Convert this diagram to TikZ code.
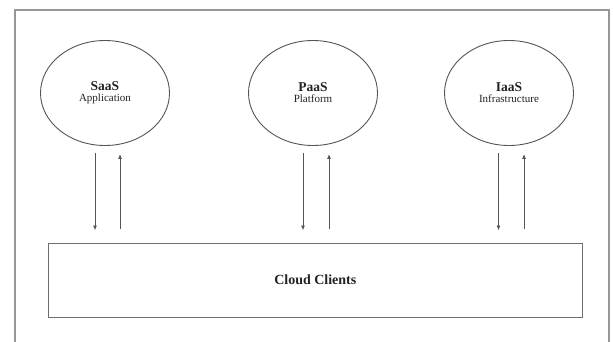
\documentclass[tikz,border=0pt]{standalone}
\usepackage{fontspec}
\setmainfont{Liberation Serif}
\usetikzlibrary{shapes.geometric,arrows.meta,calc}
\definecolor{framegray}{RGB}{150,150,150}
\definecolor{linegray}{RGB}{85,85,85}
\definecolor{txt}{RGB}{35,35,35}
\tikzset{
  svc/.style={ellipse,draw=linegray,line width=0.9pt,minimum width=129pt,minimum height=105pt,inner sep=0pt,align=center,text=txt},
  clientbox/.style={rectangle,draw=linegray!85,line width=1pt,minimum width=534pt,minimum height=74pt,inner sep=0pt,text=txt},
  arr/.style={draw=linegray,line width=0.9pt,-{Latex[length=5pt,width=4pt]}},
  ttl/.style={font=\fontsize{13.5}{15}\selectfont\bfseries},
  sub/.style={font=\fontsize{11}{15}\selectfont}
}
\begin{document}
\begin{tikzpicture}[x=1pt,y=1pt]
\useasboundingbox (0,0) rectangle (613,341);
\fill[white] (0,0) rectangle (613,341);
\draw[framegray,line width=1.5pt] (15,-5) -- (15,331) -- (609,331) -- (609,-5);
\node[svc] (saas) at (105,248) {{\fontsize{13.5}{15}\selectfont\bfseries SaaS}\\[-1pt]{\fontsize{11}{13}\selectfont Application}};
\node[svc] (paas) at (313,248) {{\fontsize{13.5}{15}\selectfont\bfseries PaaS}\\[-1pt]{\fontsize{11}{13}\selectfont Platform}};
\node[svc] (iaas) at (509,248) {{\fontsize{13.5}{15}\selectfont\bfseries IaaS}\\[-1pt]{\fontsize{11}{13}\selectfont Infrastructure}};
\node[clientbox] (cc) at (315.3,61) {\fontsize{14}{16}\selectfont\bfseries Cloud Clients};
\foreach \n/\dx/\ux in {saas/-10/15, paas/-10/16, iaas/-10.5/15}{
  \draw[arr] ($(\n.south)+(\dx pt,-7pt)$) -- ($(\n.south |- cc.north)+(\dx pt,12pt)$);
  \draw[arr] ($(\n.south |- cc.north)+(\ux pt,14pt)$) -- ($(\n.south)+(\ux pt,-8pt)$);
}
\end{tikzpicture}
\end{document}
